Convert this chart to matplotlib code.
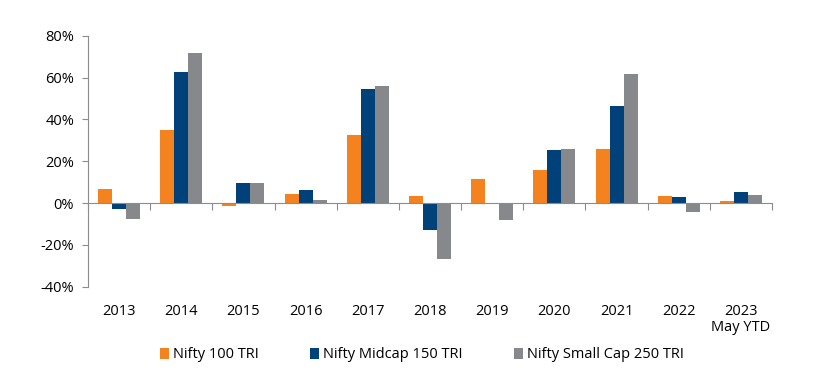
import numpy as np
import matplotlib.pyplot as plt
from matplotlib.ticker import FuncFormatter
from matplotlib.patches import Patch
from matplotlib.transforms import blended_transform_factory

# data (% returns)
years = ['2013', '2014', '2015', '2016', '2017', '2018', '2019', '2020', '2021', '2022', '2023\nMay YTD']
nifty100 = [6.6, 34.8, -1.4, 4.3, 32.6, 3.2, 11.5, 15.8, 25.7, 3.2, 0.8]
midcap150 = [-2.9, 62.6, 9.8, 6.3, 54.3, -12.9, 0.0, 25.2, 46.6, 2.7, 5.3]
smallcap250 = [-7.8, 71.6, 9.8, 1.3, 55.9, -26.8, -8.0, 25.7, 61.7, -4.3, 3.7]

names = ['Nifty 100 TRI', 'Nifty Midcap 150 TRI', 'Nifty Small Cap 250 TRI']
colors = ['#F4821F', '#00417A', '#86888B']

plt.rcParams['font.family'] = ['Open Sans', 'DejaVu Sans']

fig = plt.figure(figsize=(8.29, 3.85), dpi=100)
ax = fig.add_axes([88 / 829, 1 - 286.7 / 385, (772 - 88) / 829, (286.7 - 35.7) / 385])

x = np.arange(len(years))
w = 0.225
for i, (vals, c) in enumerate(zip([nifty100, midcap150, smallcap250], colors)):
    ax.bar(x + (i - 1) * w, vals, width=w, color=c, label=names[i])

ax.set_xlim(-0.5, len(years) - 0.5)
ax.set_ylim(-40, 80)
ax.set_yticks(np.arange(-40, 81, 20))
ax.yaxis.set_major_formatter(FuncFormatter(lambda v, p: f'{v:.0f}%'))

for s in ['top', 'right']:
    ax.spines[s].set_visible(False)
ax.spines['left'].set_color('#8C8C8C')
ax.spines['bottom'].set_color('#8C8C8C')
ax.spines['bottom'].set_position(('data', 0))

ax.set_xticks(np.arange(len(years) + 1) - 0.5)
ax.set_xticklabels([])
ax.tick_params(axis='x', direction='out', length=5, color='#8C8C8C')
ax.tick_params(axis='y', direction='out', length=4, color='#8C8C8C', labelsize=10.5, pad=6)

trans = blended_transform_factory(ax.transData, ax.transAxes)
for xi, lab in zip(x, years):
    ax.text(xi, -0.07, lab, transform=trans, ha='center', va='top', fontsize=10.5,
            linespacing=1.1)

handles = [Patch(facecolor=c) for c in colors]
fig.legend(handles, names, loc='center', bbox_to_anchor=(422 / 829, 1 - 355 / 385), ncol=3,
           frameon=False, fontsize=10.5, handlelength=0.6, handleheight=0.8,
           handletextpad=0.3, columnspacing=3.5)

fig.savefig('out.png', dpi=100)
